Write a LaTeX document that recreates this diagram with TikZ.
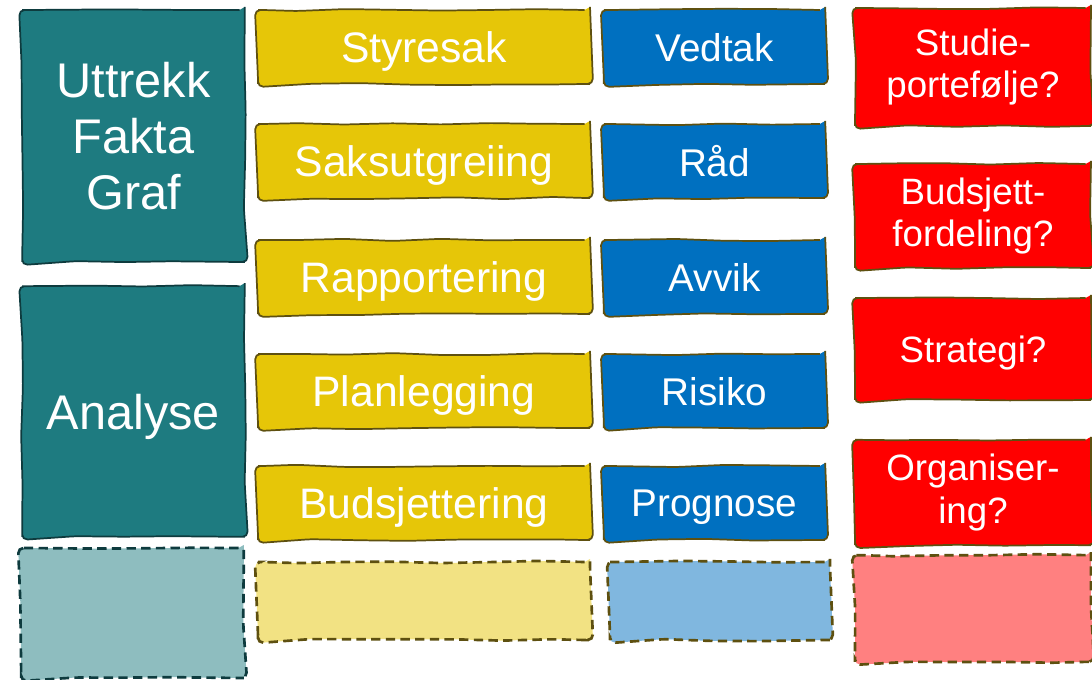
\documentclass[tikz,border=0pt]{standalone}
\usepackage{fontspec}
\setmainfont{Liberation Sans}
\usetikzlibrary{decorations.pathmorphing}

\definecolor{factfill}{RGB}{30,123,128}
\definecolor{factline}{RGB}{14,59,62}
\definecolor{saksfill}{RGB}{230,198,8}
\definecolor{bluefill}{RGB}{0,112,192}
\definecolor{redfill}{RGB}{255,0,0}
\definecolor{oliveline}{RGB}{94,80,16}

\tikzset{
  sketch/.style={decorate,decoration={random steps,segment length=36pt,amplitude=0.9pt},rounded corners=4pt},
  card/.style={draw=oliveline,line width=1.3pt,sketch,text=white,align=center,inner sep=0pt},
  oneline/.style={text depth=0pt},
  factbox/.style={card,draw=factline,fill=factfill,minimum width=167pt,font=\fontsize{36.5}{42}\selectfont},
  saksbox/.style={card,oneline,fill=saksfill,minimum width=249pt,minimum height=55.5pt,font=\fontsize{32}{38}\selectfont},
  bluebox/.style={card,oneline,fill=bluefill,minimum width=166pt,minimum height=55.5pt,font=\fontsize{29}{34}\selectfont},
  redbox/.style={card,fill=redfill,minimum width=177pt,font=\fontsize{27.5}{32}\selectfont},
  spare/.style={dashed,dash pattern=on 7pt off 4pt,line width=2pt,text=white}
}

\begin{document}
\begin{tikzpicture}[x=0.75pt,y=-0.75pt]
\pgfmathsetseed{11}
\useasboundingbox (0,0) rectangle (1092,680);

% teal column
\node[factbox,minimum height=189pt] (fakta) at (133.5,136) {Uttrekk\\Fakta\\Graf};
\node[factbox,oneline,minimum height=188pt] (analyse) at (133.5,411.5) {Analyse};
\node[factbox,spare,fill=factfill!50,minimum height=97.5pt] (tealny) at (132.5,613) {};

% yellow column
\node[saksbox] (styresak) at (424,47) {Styresak};
\node[saksbox] (saksutgr) at (424,161) {Saksutgreiing};
\node[saksbox] (rapport) at (424,277) {Rapportering};
\node[saksbox] (plan) at (424,391) {Planlegging};
\node[saksbox] (budsj) at (424,503) {Budsjettering};
\node[saksbox,spare,fill=saksfill!50,minimum height=58.5pt] (saksny) at (424,601) {};

% blue column
\node[bluebox] (vedtak) at (714.5,47) {Vedtak};
\node[bluebox] (raad) at (714.5,161) {Råd};
\node[bluebox] (avvik) at (714.5,277) {Avvik};
\node[bluebox] (risiko) at (714.5,391) {Risiko};
\node[bluebox] (prognose) at (714.5,503) {Prognose};
\node[bluebox,spare,fill=bluefill!50,minimum height=58.5pt,minimum width=165pt] (blueny) at (720,601) {};

% red column
\node[redbox,minimum height=88.5pt] (studie) at (973,67) {Studie-\\portefølje?};
\node[redbox,minimum height=78pt] (fordeling) at (973,216) {Budsjett-\\fordeling?};
\node[redbox,oneline,minimum height=76.5pt] (strategi) at (973,349) {Strategi?};
\node[redbox,minimum height=79pt] (organ) at (973,492.5) {Organiser-\\ing?};
\node[redbox,spare,fill=redfill!50,minimum height=80pt] (redny) at (973,608.5) {};
\end{tikzpicture}
\end{document}
